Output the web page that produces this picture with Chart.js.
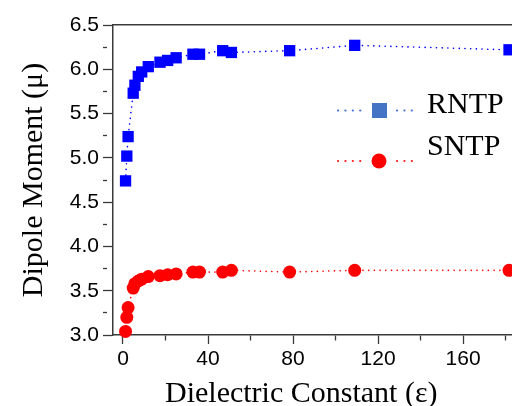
<!DOCTYPE html>
<html>
<head>
<meta charset="utf-8">
<script src="https://cdn.jsdelivr.net/npm/chart.js@4.4.1/dist/chart.umd.min.js"></script>
<style>
  body { margin: 0; background: #fff; overflow: hidden; }
  #wrap { width: 512px; height: 406px; }
</style>
</head>
<body>
<div id="wrap"><canvas id="chartDipole" width="512" height="406"></canvas></div>
<script>
/* data */
const dielectric = [1.2, 1.8, 2.4, 4.8, 5.6, 7.2, 8.8, 11.9, 17.4, 21.0, 25.0, 32.9, 36.0, 46.9, 51.0, 78.4, 109.0, 181.6];
const rntp = [4.74, 5.02, 5.24, 5.73, 5.82, 5.92, 5.97, 6.03, 6.08, 6.10, 6.13, 6.17, 6.17, 6.21, 6.19, 6.21, 6.27, 6.22];
const sntp = [3.04, 3.20, 3.31, 3.53, 3.58, 3.61, 3.63, 3.66, 3.67, 3.68, 3.69, 3.71, 3.71, 3.71, 3.73, 3.71, 3.73, 3.73];
const seriesNames = ['RNTP', 'SNTP'];
const xTicks = [0, 20, 40, 60, 80, 100, 120, 140, 160, 180];
const yTicks = [3.0, 3.25, 3.5, 3.75, 4.0, 4.25, 4.5, 4.75, 5.0, 5.25, 5.5, 5.75, 6.0, 6.25, 6.5];

function getPoints(xs, ys) {
  let result = [];
  for (let i = 0; i < xs.length; i++) {
    result.push({x: xs[i], y: ys[i]});
  }
  return result;
}

function getDataset(label, points, color, pointStyle, radius) {
  return {
    label: label,
    data: points,
    showLine: true,
    borderColor: color,
    borderWidth: 1.6,
    borderDash: [0.1, 5.6],
    borderCapStyle: 'round',
    backgroundColor: color,
    pointBackgroundColor: color,
    pointBorderWidth: 0,
    pointStyle: pointStyle,
    pointRadius: radius,
    pointHoverRadius: radius,
    clip: false,
  };
}

function isMajor(value, step) {
  return Math.abs(value / step - Math.round(value / step)) < 1e-6;
}

const tickFont = {family: 'Liberation Sans', size: 21};
const titleFont = {family: 'Liberation Serif', size: 30, lineHeight: 1};
const axisColor = '#3a3a3a';

/* legend: dotted line - marker - dotted line - text */
const legendPlugin = {
  id: 'dottedLegend',
  afterDatasetsDraw(chart) {
    const ctx = chart.ctx;
    const rows = [
      {text: seriesNames[0], y: 110.5, dot: '#3f6fd8', fill: '#4472C4', style: 'rect'},
      {text: seriesNames[1], y: 161, dot: '#ff2020', fill: '#ff0000', style: 'circle'},
    ];
    ctx.save();
    for (let row of rows) {
      ctx.strokeStyle = row.dot;
      ctx.lineWidth = 2.2;
      ctx.lineCap = 'round';
      ctx.setLineDash([0.1, 7.3]);
      ctx.beginPath();
      ctx.moveTo(338, row.y); ctx.lineTo(363, row.y);
      ctx.moveTo(397, row.y); ctx.lineTo(418, row.y);
      ctx.stroke();
      ctx.setLineDash([]);
      ctx.fillStyle = row.fill;
      if (row.style === 'rect') {
        ctx.fillRect(372, row.y - 7.5, 15, 15);
      } else {
        ctx.beginPath();
        ctx.arc(379, row.y, 7.5, 0, Math.PI * 2);
        ctx.fill();
      }
      ctx.fillStyle = '#000';
      ctx.font = '30px "Liberation Serif"';
      ctx.textBaseline = 'alphabetic';
      ctx.textAlign = 'left';
      ctx.fillText(row.text, 427, row.y + (row.style === 'rect' ? 2.5 : -6));
    }
    ctx.restore();
  }
};

const config = {
  type: 'scatter',
  data: {
    datasets: [
      getDataset(seriesNames[0], getPoints(dielectric, rntp), '#0000ff', 'rect', 8),
      getDataset(seriesNames[1], getPoints(dielectric, sntp), '#ff0000', 'circle', 6.5),
    ]
  },
  options: {
    responsive: false,
    animation: false,
    layout: {padding: 0, autoPadding: false},
    plugins: {
      legend: {display: false},
      tooltip: {enabled: false},
    },
    scales: {
      x: {
        type: 'linear',
        position: 'bottom',
        min: -4.7,
        max: 183,
        afterBuildTicks(scale) { scale.ticks = xTicks.map(v => ({value: v})); },
        afterFit(scale) { scale.height = 71; },
        ticks: {
          font: tickFont,
          color: '#000',
          padding: 3,
          maxRotation: 0,
          autoSkip: false,
          callback: v => (isMajor(v, 40) && v <= 160) ? String(v) : '',
        },
        grid: {
          drawOnChartArea: false,
          drawTicks: true,
          tickLength: 9,
          tickColor: axisColor,
          tickWidth: 1.3,
          tickBorderDash: ctx => isMajor(ctx.tick.value, 40) ? [] : [5, 40],
        },
        border: {display: true, color: axisColor, width: 1.5},
        title: {
          display: true,
          text: 'Dielectric Constant (\u03b5)\u00a0\u00a0\u00a0',
          font: titleFont,
          color: '#000',
          padding: {top: 0, bottom: -3},
        },
      },
      xTop: {
        type: 'linear',
        position: 'top',
        min: -4.7,
        max: 183,
        afterFit(scale) { scale.height = 25; },
        ticks: {display: false},
        grid: {display: false, drawTicks: false},
        border: {display: true, color: axisColor, width: 1.5},
      },
      y: {
        type: 'linear',
        position: 'left',
        min: 3.0,
        max: 6.5,
        afterBuildTicks(scale) { scale.ticks = yTicks.map(v => ({value: v})); },
        afterFit(scale) { scale.width = 113; },
        ticks: {
          font: tickFont,
          color: '#000',
          padding: 4,
          autoSkip: false,
          callback: v => isMajor(v, 0.5) ? v.toFixed(1) : '',
        },
        grid: {
          drawOnChartArea: false,
          drawTicks: true,
          tickLength: 10,
          tickColor: axisColor,
          tickWidth: 1.3,
          tickBorderDash: ctx => isMajor(ctx.tick.value, 0.5) ? [] : [4, 40],
        },
        border: {display: true, color: axisColor, width: 1.5},
        title: {
          display: true,
          text: 'Dipole Moment (\u03bc)',
          font: titleFont,
          color: '#000',
          padding: {top: 19, bottom: 0},
        },
      },
    },
  },
  plugins: [legendPlugin],
};

const ctx = document.getElementById('chartDipole').getContext('2d');
const chartDipole = new Chart(ctx, config);
</script>
</body>
</html>
